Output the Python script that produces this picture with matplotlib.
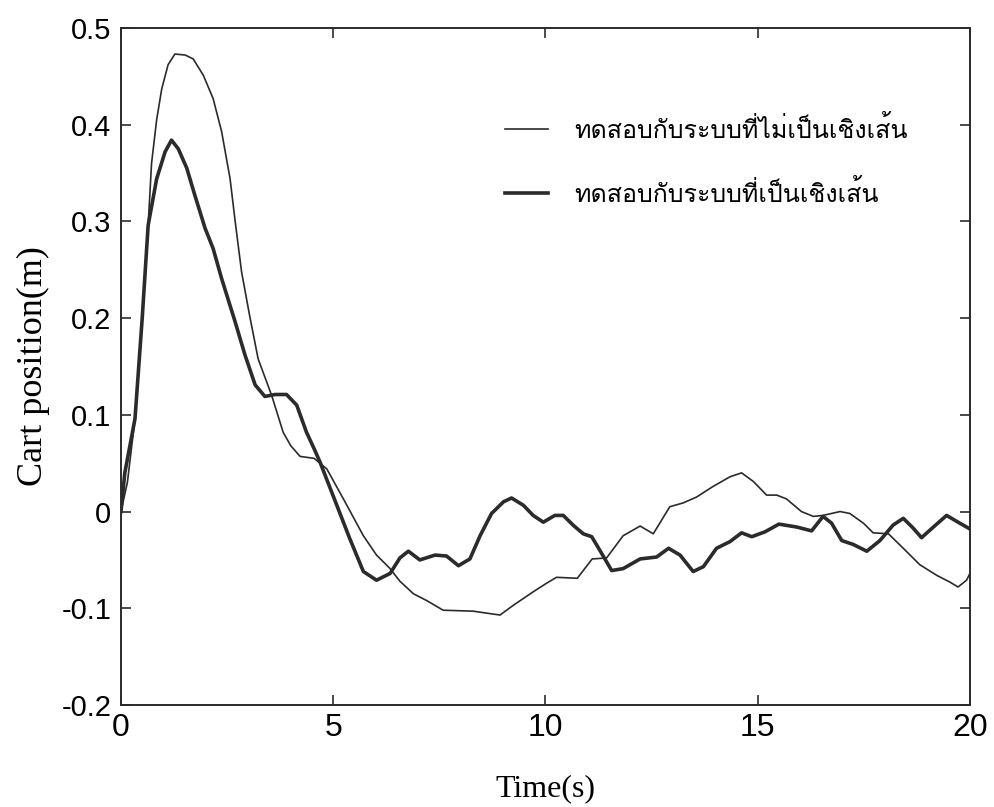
import matplotlib
matplotlib.use("Agg")
import matplotlib.pyplot as plt

# thin line: test with the nonlinear system
t_nonlin = [0, 0.15, 0.33, 0.5, 0.64, 0.72, 0.84, 0.96, 1.11, 1.27, 1.51, 1.70, 1.94,
            2.17, 2.37, 2.57, 2.69, 2.84, 3.02, 3.23, 3.55, 3.82, 4.0, 4.22, 4.55, 4.85,
            5.24, 5.71, 6.02, 6.34, 6.57, 6.89, 7.2, 7.59, 8.3, 8.61, 8.93, 9.24, 9.71,
            10.03, 10.26, 10.75, 11.1, 11.44, 11.83, 12.23, 12.54, 12.93, 13.25, 13.56,
            13.95, 14.35, 14.62, 14.9, 15.21, 15.45, 15.68, 16.03, 16.31, 16.54, 16.94,
            17.17, 17.49, 17.72, 18.08, 18.43, 18.82, 19.22, 19.53, 19.72, 19.92, 20.0]
y_nonlin = [0, 0.03, 0.096, 0.2, 0.296, 0.36, 0.405, 0.437, 0.462, 0.473, 0.472, 0.468,
            0.451, 0.427, 0.393, 0.344, 0.30, 0.248, 0.205, 0.158, 0.120, 0.082, 0.068,
            0.057, 0.055, 0.044, 0.013, -0.025, -0.045, -0.059, -0.072, -0.085, -0.092,
            -0.102, -0.103, -0.105, -0.107, -0.097, -0.083, -0.074, -0.068, -0.069,
            -0.049, -0.048, -0.025, -0.015, -0.023, 0.005, 0.009, 0.015, 0.026, 0.036,
            0.040, 0.031, 0.017, 0.017, 0.013, 0.0, -0.005, -0.004, 0.0, -0.002, -0.012,
            -0.022, -0.023, -0.038, -0.055, -0.066, -0.073, -0.078, -0.071, -0.064]

# thick line: test with the linear system
t_lin = [0, 0.09, 0.33, 0.5, 0.64, 0.84, 1.04, 1.19, 1.35, 1.55, 1.74, 1.98, 2.17, 2.37,
         2.69, 2.92, 3.16, 3.39, 3.63, 3.9, 4.14, 4.37, 4.57, 4.69, 5.08, 5.39, 5.71,
         6.02, 6.34, 6.57, 6.77, 7.04, 7.4, 7.67, 7.95, 8.22, 8.46, 8.73, 9.01, 9.2,
         9.48, 9.71, 9.95, 10.22, 10.42, 10.65, 10.89, 11.09, 11.28, 11.56, 11.83,
         12.23, 12.62, 12.9, 13.17, 13.48, 13.72, 14.03, 14.35, 14.62, 14.86, 15.17,
         15.5, 15.92, 16.27, 16.54, 16.74, 16.98, 17.25, 17.57, 17.88, 18.19, 18.43,
         18.66, 18.86, 19.14, 19.45, 19.76, 20.0]
y_lin = [0, 0.04, 0.096, 0.2, 0.296, 0.344, 0.372, 0.384, 0.375, 0.355, 0.327, 0.293,
         0.272, 0.241, 0.196, 0.162, 0.131, 0.119, 0.121, 0.121, 0.110, 0.082, 0.063,
         0.051, 0.007, -0.028, -0.062, -0.071, -0.064, -0.048, -0.041, -0.050, -0.045,
         -0.046, -0.056, -0.049, -0.025, -0.002, 0.010, 0.014, 0.0065, -0.004, -0.011,
         -0.004, -0.004, -0.014, -0.023, -0.026, -0.040, -0.061, -0.059, -0.049, -0.047,
         -0.038, -0.045, -0.062, -0.057, -0.038, -0.031, -0.022, -0.026, -0.021, -0.013,
         -0.016, -0.020, -0.005, -0.012, -0.030, -0.034, -0.041, -0.030, -0.014, -0.007,
         -0.017, -0.027, -0.016, -0.004, -0.012, -0.018]

labels = ["ทดสอบกับระบบที่ไม่เป็นเชิงเส้น", "ทดสอบกับระบบที่เป็นเชิงเส้น"]
x_ticks = [0, 5, 10, 15, 20]
y_ticks = [-0.2, -0.1, 0, 0.1, 0.2, 0.3, 0.4, 0.5]
y_ticklabels = ["-0.2", "-0.1", "0", "0.1", "0.2", "0.3", "0.4", "0.5"]

ink = "#2b2b2b"

fig = plt.figure(figsize=(9.95, 8.07), dpi=100)
ax = fig.add_axes([0.1216, 0.1264, 0.8532, 0.839])

ax.plot(t_nonlin, y_nonlin, color=ink, lw=1.2)
ax.plot(t_lin, y_lin, color=ink, lw=2.6)

ax.set_xlim(0, 20)
ax.set_ylim(-0.2, 0.5)
ax.set_xticks(x_ticks)
ax.set_yticks(y_ticks)
ax.set_yticklabels(y_ticklabels)
ax.tick_params(direction="in", top=True, right=True, length=7, width=1.2, color=ink)
ax.tick_params(axis="y", pad=7)
ax.tick_params(axis="x", pad=6)
for lab in ax.get_yticklabels():
    lab.set_family("Liberation Sans")
    lab.set_fontsize(21)
for lab in ax.get_xticklabels():
    lab.set_family("Liberation Sans")
    lab.set_fontsize(23)
for s in ax.spines.values():
    s.set_linewidth(1.4)
    s.set_color(ink)

ax.set_xlabel("Time(s)", family="Liberation Serif", fontsize=23, labelpad=22)
ax.set_ylabel("Cart position(m)", family="Liberation Serif", fontsize=26, labelpad=8)

leg = ax.legend(labels, loc="upper left", bbox_to_anchor=(0.438, 0.889), frameon=False,
                borderpad=0, handlelength=1.7, handletextpad=1.05, labelspacing=1.5,
                prop={"family": "Loma", "size": 18})

fig.savefig("out.png", dpi=100)
